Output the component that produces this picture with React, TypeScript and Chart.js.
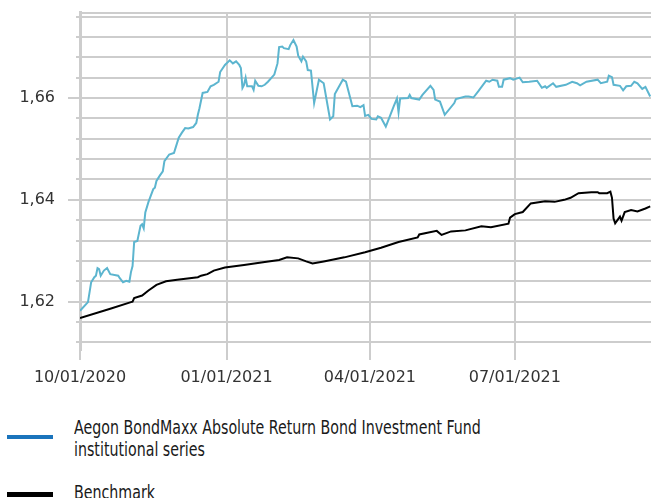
import React, { useEffect, useRef } from 'react';
import { Chart, registerables } from 'chart.js';

Chart.register(...registerables);

// x values are days since 2020-10-01
const fundDays = [
  0, 5, 7, 9, 10, 11, 12, 13, 15, 17, 19, 24, 25, 27, 29, 31, 32, 33, 34, 36,
  38, 39, 40, 41, 43, 46, 47, 48, 50, 52, 53, 56, 59, 60, 62, 64, 66, 68, 71, 73,
  74, 75, 77, 80, 82, 84, 87, 88, 91, 94, 96, 98, 100, 101, 102, 103, 104, 105, 108, 109,
  110, 112, 114, 116, 118, 122, 124, 125, 127, 128, 131, 132, 134, 136, 137, 139, 140, 142, 143, 145,
  147, 150, 153, 157, 159, 160, 165, 167, 171, 174, 176, 178, 179, 181, 183, 186, 187, 189, 192, 197,
  199, 200, 201, 206, 207, 208, 213, 215, 220, 222, 223, 226, 229, 235, 236, 242, 244, 247, 250, 255,
  257, 259, 262, 263, 265, 266, 270, 272, 276, 278, 282, 287, 290, 292, 293, 297, 299, 305, 309, 312,
  314, 318, 325, 327, 331, 332, 334, 335, 339, 341, 343, 346, 348, 350, 353, 355, 358,
];
const fundValues = [
  1.6182, 1.6199, 1.6238, 1.6248, 1.6251, 1.6266, 1.6264, 1.6251, 1.6261, 1.6266,
  1.6254, 1.6251, 1.6246, 1.6238, 1.6241, 1.6239, 1.6258, 1.627, 1.6317, 1.6319,
  1.6349, 1.6352, 1.6344, 1.6375, 1.6396, 1.6421, 1.6424, 1.6437, 1.6447, 1.6456,
  1.6476, 1.6489, 1.6492, 1.6502, 1.6522, 1.6532, 1.6541, 1.654, 1.6543, 1.6551,
  1.6567, 1.658, 1.661, 1.6612, 1.6623, 1.6626, 1.6632, 1.6651, 1.6665, 1.6674,
  1.6668, 1.6672, 1.6665, 1.6659, 1.662, 1.6626, 1.664, 1.6623, 1.6623, 1.6616,
  1.6634, 1.6624, 1.6623, 1.6626, 1.6632, 1.6646, 1.6668, 1.67, 1.6701, 1.6698,
  1.6696, 1.6704, 1.6714, 1.6701, 1.6683, 1.6672, 1.6681, 1.6672, 1.6655, 1.6654,
  1.659, 1.6636, 1.6629, 1.6558, 1.6564, 1.6608, 1.6636, 1.6632, 1.6584, 1.6585,
  1.6582, 1.6586, 1.6565, 1.6567, 1.6559, 1.6558, 1.6564, 1.6561, 1.6544, 1.6584,
  1.6599, 1.6572, 1.6599, 1.66, 1.6606, 1.66, 1.6597, 1.6606, 1.6624, 1.6616,
  1.6597, 1.6593, 1.6567, 1.659, 1.6598, 1.6603, 1.6603, 1.6601, 1.6613, 1.6634,
  1.6632, 1.6636, 1.6634, 1.6622, 1.6622, 1.6636, 1.6639, 1.6636, 1.664, 1.6631,
  1.6632, 1.6634, 1.662, 1.6623, 1.662, 1.6629, 1.6622, 1.6626, 1.6632, 1.6629,
  1.6625, 1.6632, 1.6636, 1.6629, 1.6632, 1.6644, 1.6641, 1.6626, 1.6624, 1.6615,
  1.6623, 1.6624, 1.6632, 1.6629, 1.6618, 1.6622, 1.6603,
];

const benchDays = [
  0, 19, 32, 33, 34, 39, 43, 48, 54, 61, 74, 76, 80, 84, 91, 103, 116, 125, 130, 137,
  142, 146, 153, 166, 179, 189, 200, 212, 213, 224, 227, 233, 242, 252, 258, 269, 270, 273, 278, 283,
  292, 298, 304, 308, 313, 321, 325, 326, 331, 333, 334, 335, 336, 339, 340, 342, 346, 350, 355, 358,
];
const benchValues = [
  1.6168, 1.6186, 1.6199, 1.62, 1.6207, 1.6212, 1.6222, 1.6233, 1.624, 1.6243,
  1.6248, 1.6251, 1.6254, 1.6261, 1.6267, 1.6272, 1.6278, 1.6282, 1.6287, 1.6285,
  1.6279, 1.6275, 1.6279, 1.6287, 1.6297, 1.6306, 1.6317, 1.6326, 1.6332, 1.6339,
  1.6331, 1.6338, 1.634, 1.6348, 1.6346, 1.6353, 1.6365, 1.6372, 1.6376, 1.6393,
  1.6397, 1.6396, 1.64, 1.6404, 1.6413, 1.6415, 1.6415, 1.6413, 1.6413, 1.6416,
  1.6404, 1.6363, 1.6354, 1.6367, 1.6359, 1.6376, 1.638, 1.6377, 1.6383, 1.6387,
];

const xTickDays = [0, 92, 182, 273];
const xTickLabels = ['10/01/2020', '01/01/2021', '04/01/2021', '07/01/2021'];
const yGridValues = [
  1.612, 1.616, 1.62, 1.624, 1.628, 1.632, 1.636, 1.64, 1.644, 1.648, 1.652, 1.656,
  1.66, 1.664, 1.668, 1.672, 1.676,
];
const yLabelValues = [1.62, 1.64, 1.66];
const yLabelTexts = ['1,62', '1,64', '1,66'];

const fundName = 'Aegon BondMaxx Absolute Return Bond Investment Fund institutional series';
const benchName = 'Benchmark';

const GRID = '#cdcdcd';
const FUND_LINE = '#5cb5cf';
const FUND_SWATCH = '#1a74bc';
const BENCH = '#000000';

const labelIndex = (v: number) => yLabelValues.findIndex((l) => Math.abs(l - v) < 1e-6);

const framePlugin = {
  id: 'frame',
  beforeDatasetsDraw(chart: any) {
    const { ctx, chartArea, scales } = chart;
    const y = scales.y;
    ctx.save();
    ctx.strokeStyle = GRID;
    ctx.lineWidth = 2;
    ctx.beginPath();
    ctx.moveTo(chartArea.left, Math.round(chartArea.top));
    ctx.lineTo(chartArea.right, Math.round(chartArea.top));
    ctx.stroke();
    y.ticks.forEach((t: any) => {
      const py = Math.round(y.getPixelForValue(t.value));
      const major = labelIndex(t.value) >= 0;
      ctx.beginPath();
      ctx.moveTo(chartArea.left - (major ? 12 : 4), py);
      ctx.lineTo(chartArea.left, py);
      ctx.stroke();
    });
    ctx.restore();
  },
};

export default function App() {
  const canvasRef = useRef<HTMLCanvasElement | null>(null);

  useEffect(() => {
    if (!canvasRef.current) return;
    const chart = new Chart(canvasRef.current, {
      type: 'line',
      data: {
        datasets: [
          {
            label: fundName,
            data: fundDays.map((d, i) => ({ x: d, y: fundValues[i] })),
            borderColor: FUND_LINE,
            borderWidth: 2,
            pointRadius: 0,
            tension: 0,
            fill: false,
          },
          {
            label: benchName,
            data: benchDays.map((d, i) => ({ x: d, y: benchValues[i] })),
            borderColor: BENCH,
            borderWidth: 2,
            pointRadius: 0,
            tension: 0,
            fill: false,
          },
        ],
      },
      options: {
        animation: false,
        responsive: false,
        devicePixelRatio: 1,
        layout: { padding: { top: 12.5, left: 0, right: 0, bottom: 0 } },
        plugins: { legend: { display: false }, tooltip: { enabled: false } },
        scales: {
          x: {
            type: 'linear',
            min: 0,
            max: 358.5,
            afterBuildTicks: (scale: any) => {
              scale.ticks = xTickDays.map((v) => ({ value: v }));
            },
            afterFit: (scale: any) => {
              scale.height = 50;
              scale.paddingLeft = 0;
              scale.paddingRight = 0;
            },
            ticks: {
              autoSkip: false,
              maxRotation: 0,
              minRotation: 0,
              padding: 8,
              color: '#333333',
              font: { family: 'DejaVu Sans', size: 16 },
              callback: (_v: any, i: number) => xTickLabels[i],
            },
            grid: { color: GRID, lineWidth: 2, drawTicks: true, tickLength: 10 },
            border: { display: false },
          },
          y: {
            type: 'linear',
            min: 1.6105,
            max: 1.6768,
            afterBuildTicks: (scale: any) => {
              scale.ticks = yGridValues.map((v) => ({ value: v }));
            },
            afterFit: (scale: any) => {
              scale.width = 80;
              scale.paddingTop = 0;
              scale.paddingBottom = 0;
            },
            ticks: {
              autoSkip: false,
              padding: 25,
              color: '#333333',
              font: { family: 'DejaVu Sans', size: 16 },
              callback: (v: any) => {
                const i = labelIndex(Number(v));
                return i >= 0 ? yLabelTexts[i] : '';
              },
            },
            grid: { color: GRID, lineWidth: 2, drawTicks: false },
            border: { display: true, color: GRID, width: 3 },
          },
        },
      },
      plugins: [framePlugin],
    } as any);
    return () => chart.destroy();
  }, []);

  const textStyle: React.CSSProperties = {
    position: 'absolute',
    left: 74,
    width: 720,
    fontFamily: '"DejaVu Sans Condensed", sans-serif',
    fontSize: 20,
    lineHeight: '22px',
    color: '#1a1a1a',
    transform: 'scaleX(0.79)',
    transformOrigin: '0 0',
    whiteSpace: 'nowrap',
  };

  return (
    <div
      style={{
        position: 'absolute',
        left: 0,
        top: 0,
        width: 651,
        height: 498,
        overflow: 'hidden',
        background: '#ffffff',
      }}
    >
      <canvas ref={canvasRef} width={651} height={400} style={{ display: 'block', width: 651, height: 400 }} />
      <div style={{ position: 'absolute', left: 7, top: 435, width: 46, height: 4, background: FUND_SWATCH }} />
      <div style={{ ...textStyle, top: 416 }}>
        Aegon BondMaxx Absolute Return Bond Investment Fund
        <br />
        institutional series
      </div>
      <div style={{ position: 'absolute', left: 7, top: 492, width: 46, height: 5, background: BENCH }} />
      <div style={{ ...textStyle, top: 481 }}>{benchName}</div>
    </div>
  );
}
